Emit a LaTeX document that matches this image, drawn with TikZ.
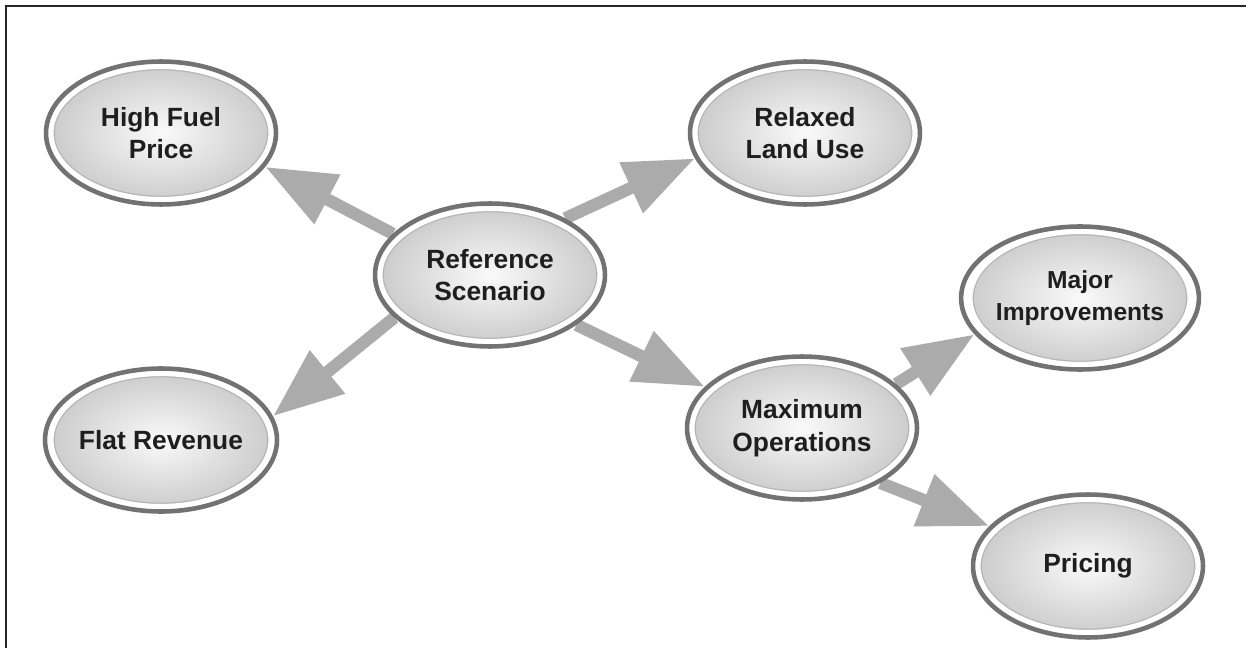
\documentclass[tikz,border=0pt]{standalone}
\usepackage{fontspec}
\setmainfont{Liberation Sans}
\usetikzlibrary{shapes.geometric,arrows.meta,backgrounds}
\definecolor{ring}{HTML}{727272}
\definecolor{rim}{HTML}{B4B4B4}
\definecolor{shaft}{HTML}{ABABAB}
\definecolor{ink}{HTML}{1E1E1E}
\definecolor{frame}{HTML}{262626}

\tikzset{
  bubble/.style={ellipse, minimum width=4.6cm, minimum height=2.86cm, inner sep=0pt,
    shading=radial, inner color=gray!4, outer color=gray!42,
    draw=ring, line width=2.6pt,
    path picture={
      \draw[rim, line width=10pt] (path picture bounding box.center)
        ellipse [x radius=2.3cm, y radius=1.43cm];
      \draw[white, line width=8.6pt] (path picture bounding box.center)
        ellipse [x radius=2.3cm, y radius=1.43cm];
    },
    font=\bfseries\fontsize{15}{18.5}\selectfont, text=ink, align=center},
  fatarrow/.style={draw=shaft, line width=7pt,
    -{Triangle[length=40pt, width=30pt, fill=shaft]}}
}

\begin{document}
\begin{tikzpicture}[x=0.02cm, y=-0.02cm]
  \useasboundingbox (0,0) rectangle (1246,648);

  % Rahmen oben und links
  \draw[frame, line width=1.4pt] (6,648) -- (6,6) -- (1246,6);

  % Szenarien
  \node[bubble] (ref)     at (490,275)  {Reference\\Scenario};
  \node[bubble] (fuel)    at (161,133)  {High Fuel\\Price};
  \node[bubble] (relaxed) at (805,133)  {Relaxed\\Land Use};
  \node[bubble] (flat)    at (161,440)  {Flat Revenue};
  \node[bubble] (maxops)  at (802,428)  {Maximum\\Operations};
  \node[bubble, font=\bfseries\fontsize{14}{18.5}\selectfont]
                (major)   at (1080,298) {Major\\Improvements};
  \node[bubble] (pricing) at (1088,566) {Pricing};

  % Pfeile (hinter den Ellipsen)
  \begin{scope}[on background layer]
    \draw[fatarrow] (ref.157) -- (fuel.342);
    \draw[fatarrow] (ref.37) -- (relaxed.193);
    \draw[fatarrow] (ref.204) -- (flat.12);
    \draw[fatarrow] (ref.330) -- (maxops.157);
    \draw[fatarrow] (maxops.25) -- (major.199);
    \draw[fatarrow] (maxops.325) -- (pricing.158);
  \end{scope}
\end{tikzpicture}
\end{document}
